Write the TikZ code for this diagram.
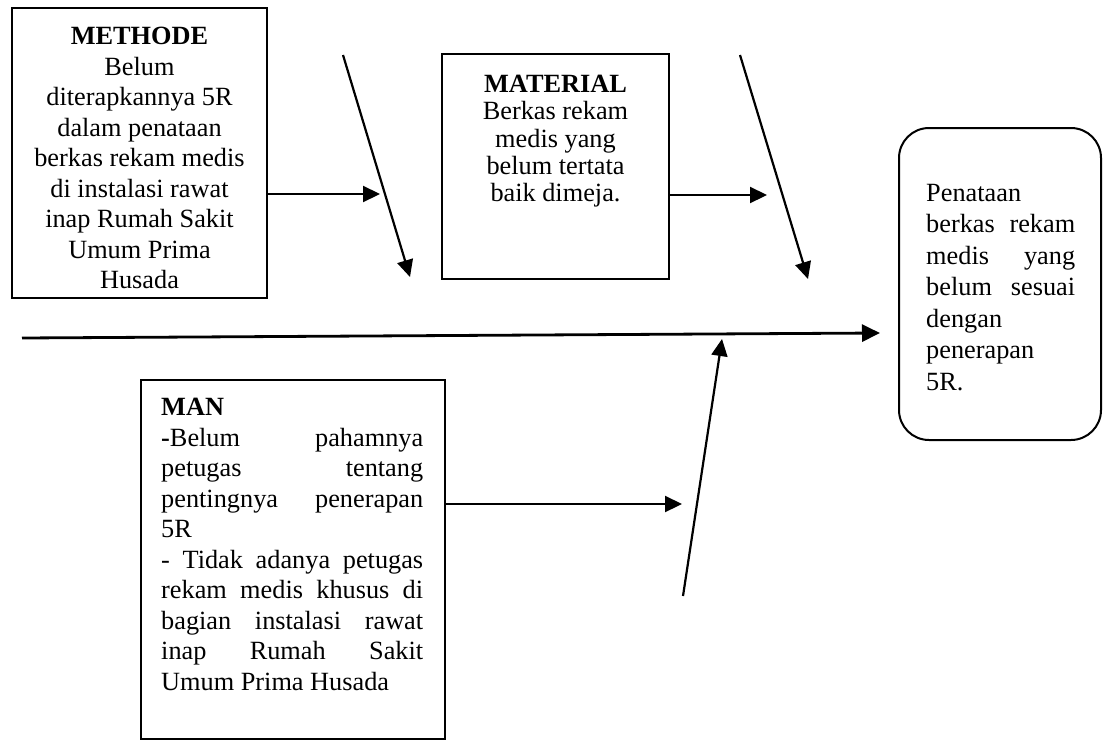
\documentclass[tikz,border=0pt]{standalone}
\usepackage{fontspec}
\setmainfont{Liberation Serif}
\usepackage{tikz}
\usetikzlibrary{arrows.meta,positioning}
\newcommand{\jline}[2]{\makebox[#1][s]{#2}}

\begin{document}
\begin{tikzpicture}[x=1pt,y=-1pt]
\useasboundingbox (0,0) rectangle (1103,742);
\tikzset{box/.style={draw,line width=2pt,inner sep=0pt}}
\tikzset{txt/.style={inner sep=0pt,font=\fontsize{26.3}{30.5}\selectfont}}
\tikzset{ptr/.style={-{Triangle[length=17pt,width=16pt]},line width=2.2pt}}
\tikzset{bone/.style={-{Triangle[length=18pt,width=17pt]},line width=2.8pt}}
% frames
\node[box,minimum width=255pt,minimum height=290pt] (methode) at (139.5,153) {};
\node[box,minimum width=227pt,minimum height=225pt] (material) at (555.5,166.5) {};
\node[box,minimum width=304pt,minimum height=359pt] (man) at (293,559.5) {};
\node[box,rounded corners=30pt,minimum width=202pt,minimum height=312pt] (effect) at (1000,284) {};
% texts
\node[txt,align=center,below=20pt of methode.north] (methodetxt) {\textbf{METHODE}\\Belum\\diterapkannya 5R\\dalam penataan\\berkas rekam medis\\di instalasi rawat\\inap Rumah Sakit\\Umum Prima\\Husada};
\node[txt,align=center,font=\fontsize{26.3}{27.3}\selectfont,below=22pt of material.north] (materialtxt) {\textbf{MATERIAL}\\Berkas rekam\\medis yang\\belum tertata\\baik dimeja.};
\node[txt,align=left,below right=19pt and 21pt of man.north west] (mantxt) {\textbf{MAN}\\
  \jline{262pt}{\textbf{-}Belum pahamnya}\\
  \jline{262pt}{petugas tentang}\\
  \jline{262pt}{pentingnya penerapan}\\
  5R\\
  \jline{262pt}{- Tidak adanya petugas}\\
  \jline{262pt}{rekam medis khusus di}\\
  \jline{262pt}{bagian instalasi rawat}\\
  \jline{262pt}{inap Rumah Sakit}\\
  Umum Prima Husada};
\node[txt,align=left,font=\fontsize{26.3}{31.5}\selectfont,below right=57pt and 28pt of effect.north west] (effecttxt) {Penataan\\
  \jline{149pt}{berkas rekam}\\
  \jline{149pt}{medis yang}\\
  \jline{149pt}{belum sesuai}\\
  dengan\\penerapan\\5R.};
% bone ends
\coordinate (tipA) at (380,194);
\coordinate (tipB) at (767,195);
\coordinate (tipC) at (682,504);
\coordinate (tail) at (22,338);
\coordinate (head) at (880,333);
\coordinate (d1a) at (343,55);  \coordinate (d1b) at (410,277);
\coordinate (d2a) at (740,55);  \coordinate (d2b) at (808,279);
\coordinate (d3a) at (683,596); \coordinate (d3b) at (722,339);
% spine and bones
\draw[bone] (tail) -- (head);
\foreach \a/\b in {d1a/d1b,d2a/d2b,d3a/d3b}
  \draw[ptr] (\a) -- (\b);
% causes into bones
\draw[ptr] (methode.east |- tipA) -- (tipA);
\draw[ptr] (material.east |- tipB) -- (tipB);
\draw[ptr] (man.east |- tipC) -- (tipC);
\end{tikzpicture}
\end{document}
